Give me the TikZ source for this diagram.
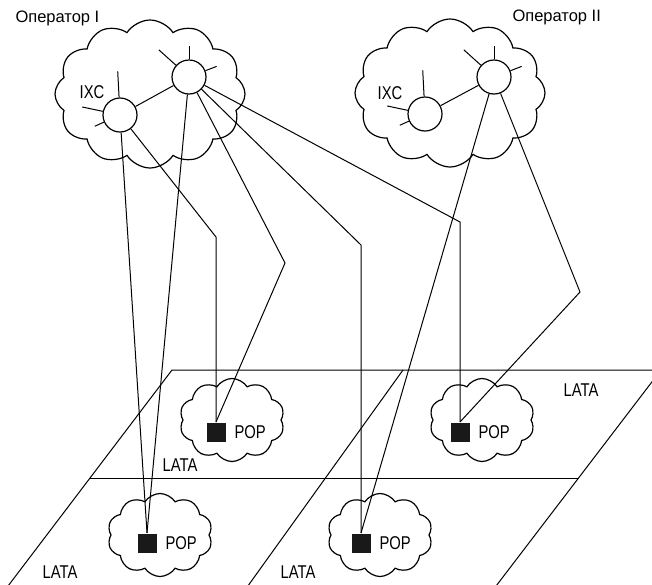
\documentclass[tikz,border=0pt]{standalone}
\usepackage{fontspec}
\setmainfont{Liberation Sans}[FakeStretch=0.8]
\newfontfamily\opfont{Liberation Sans}
\usetikzlibrary{shapes.symbols, positioning}

\begin{document}
\begin{tikzpicture}[x=1pt, y=-1pt, line width=1pt,
    bigcloud/.style={cloud, draw, line width=1.2pt, cloud puffs=12, cloud puff arc=115, cloud ignores aspect, minimum width=190pt, minimum height=148pt, inner sep=0pt},
    popcloud/.style={cloud, draw, line width=1.2pt, cloud puffs=10, cloud puff arc=115, cloud ignores aspect, minimum width=105pt, minimum height=83pt, inner sep=0pt},
    ixc/.style={circle, draw, line width=1.2pt, fill=white, minimum size=34pt, inner sep=0pt},
    pop/.style={rectangle, fill=black!90, minimum size=19pt, inner sep=0pt},
    txt/.style={font=\fontsize{18.5}{21}\selectfont, inner sep=0pt},
    optxt/.style={font=\opfont\fontsize{16.5}{19}\selectfont, inner sep=0pt}]
    \useasboundingbox (0,0) rectangle (652,584);

    % LATA planes
    \begin{scope}
        \clip (0,0) rectangle (652,584);
        \draw (5,590) -- (172,370) -- (661,370) -- (493,590);
        \draw (90,478) -- (579,478);
        \draw (403,370) -- (245,590);
    \end{scope}

    % clouds
    \node[bigcloud] (opI) at (150,94) {};
    \node[bigcloud] (opII) at (450,93) {};
    \node[popcloud] (cloudA) at (232,420) {};
    \node[popcloud] (cloudB) at (482,420) {};
    \node[popcloud] (cloudC) at (160,535) {};
    \node[popcloud] (cloudD) at (380,535) {};

    % switches
    \node[ixc] (ixcIa) at (120,115) {};
    \node[ixc] (ixcIb) at (189,77) {};
    \node[ixc] (ixcIIa) at (425,114) {};
    \node[ixc] (ixcIIb) at (494,77) {};

    \node[pop] (popA) at (216,432) {};
    \node[pop] (popB) at (460,432) {};
    \node[pop] (popC) at (147,543) {};
    \node[pop] (popD) at (361,543) {};

    % spokes
    \foreach \c in {ixcIa, ixcIIa}
        \foreach \a/\l in {93/26, 168/21, 204/10}
            \draw (\c.\a) -- ++(\a:\l pt);
    \foreach \c in {ixcIb, ixcIIb}
        \foreach \a/\l in {90/13, 138/23, 21/12}
            \draw (\c.\a) -- ++(\a:\l pt);

    \draw (ixcIa) -- (ixcIb);
    \draw (ixcIIa) -- (ixcIIb);

    % trunks
    \coordinate (kA) at (216,237);
    \coordinate (kB) at (285,263);
    \coordinate (kC) at (361,245);
    \coordinate (kD) at (460,222);
    \coordinate (kE) at (580,292);

    \draw (ixcIa) -- (popC.north);
    \draw (ixcIb) -- (popC.north);
    \draw (ixcIa) -- (kA) -- (popA.north);
    \draw (ixcIb) -- (kB) -- (popA.north);
    \draw (ixcIb) -- (kC) -- (popD.north);
    \draw (ixcIb) -- (kD) -- (popB.north);
    \draw (ixcIIb) -- (popD.north);
    \draw (ixcIIb) -- (kE) -- (popB.north);

    % labels
    \node[optxt, anchor=west] (nameI) at (15,18) {Оператор I};
    \node[optxt, anchor=west] (nameII) at (512,17) {Оператор II};
    \node[txt] (ixcIt) at (92,92) {IXC};
    \node[txt] (ixcIIt) at (390,93) {IXC};
    \node[txt, right=8pt of popA] (popAt) {POP};
    \node[txt, right=8pt of popB] (popBt) {POP};
    \node[txt, right=8pt of popC] (popCt) {POP};
    \node[txt, right=8pt of popD] (popDt) {POP};
    \node[txt] (lataA) at (180,465) {LATA};
    \node[txt] (lataB) at (581,390) {LATA};
    \node[txt] (lataC) at (60,572) {LATA};
    \node[txt] (lataD) at (298,572) {LATA};
\end{tikzpicture}
\end{document}
